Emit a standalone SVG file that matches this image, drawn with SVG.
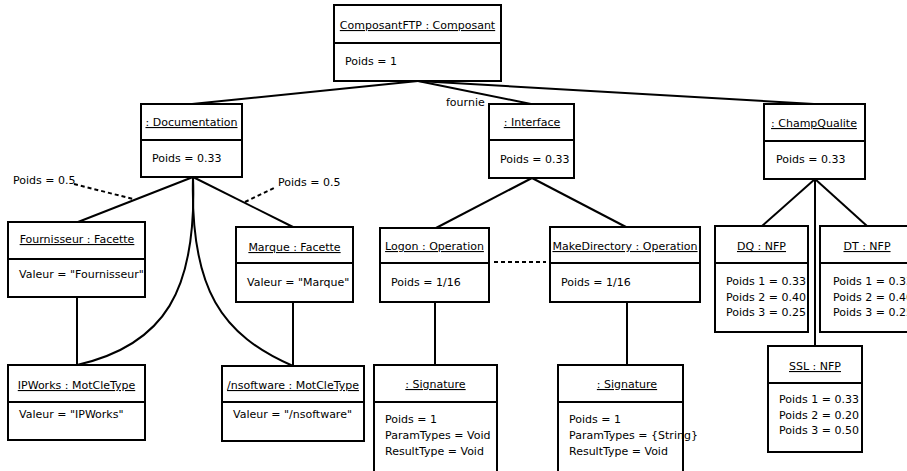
<svg xmlns="http://www.w3.org/2000/svg" width="907" height="471" viewBox="0 0 907 471">
<style>
text{font-family:"DejaVu Sans","Liberation Sans",sans-serif;font-size:11px;fill:#000}
.t{text-anchor:middle;text-decoration:underline}
.b{fill:#fff;stroke:#000;stroke-width:2}
.d{stroke:#000;stroke-width:2}
.c{fill:none;stroke:#000;stroke-width:2}
.dash{fill:none;stroke:#000;stroke-width:2;stroke-dasharray:4 3}
</style>
<rect width="907" height="471" fill="#fff"/>
<g id="connectors">
<line class="c" x1="418" y1="81" x2="192" y2="104"/>
<line class="c" x1="418" y1="81" x2="531" y2="104"/>
<line class="c" x1="418" y1="81" x2="814" y2="104"/>
<line class="c" x1="193" y1="177" x2="78" y2="222"/>
<line class="c" x1="193" y1="177" x2="293" y2="227"/>
<path class="c" d="M193,177 C197,290 165,345 77,365"/>
<path class="c" d="M193,177 C190,290 222,335 293,366"/>
<line class="c" x1="77" y1="297" x2="77" y2="365"/>
<line class="c" x1="293" y1="302" x2="293" y2="366"/>
<line class="c" x1="532" y1="178" x2="436" y2="228"/>
<line class="c" x1="532" y1="178" x2="626" y2="227"/>
<line class="c" x1="435" y1="302" x2="435" y2="365"/>
<line class="c" x1="627" y1="302" x2="627" y2="365"/>
<line class="c" x1="815" y1="179" x2="762" y2="226"/>
<line class="c" x1="815" y1="179" x2="867" y2="226"/>
<line class="c" x1="815" y1="179" x2="815" y2="346"/>
<line class="dash" x1="74" y1="184" x2="133" y2="199"/>
<line class="dash" x1="245" y1="202" x2="276" y2="187"/>
<line class="dash" x1="494" y1="262" x2="546" y2="262"/>
<text x="446" y="106">fournie</text>
<text x="13" y="184">Poids = 0.5</text>
<text x="278" y="186">Poids = 0.5</text>
</g>
<g id="composant">
<rect class="b" x="334" y="5" width="167" height="76"/>
<line class="d" x1="334" y1="43" x2="501" y2="43"/>
<text class="t" x="417.5" y="29">ComposantFTP : Composant</text>
<text x="345" y="65">Poids = 1</text>
</g>
<g id="documentation">
<rect class="b" x="141" y="104" width="101" height="73"/>
<line class="d" x1="141" y1="140" x2="242" y2="140"/>
<text class="t" x="191.5" y="126">: Documentation</text>
<text x="152" y="162">Poids = 0.33</text>
</g>
<g id="interface">
<rect class="b" x="489" y="104" width="85" height="74"/>
<line class="d" x1="489" y1="140" x2="574" y2="140"/>
<text class="t" x="532" y="126">: Interface</text>
<text x="500" y="163">Poids = 0.33</text>
</g>
<g id="champqualite">
<rect class="b" x="764" y="104" width="101" height="75"/>
<line class="d" x1="764" y1="141" x2="865" y2="141"/>
<text class="t" x="814" y="127">: ChampQualite</text>
<text x="776" y="163">Poids = 0.33</text>
</g>
<g id="fournisseur">
<rect class="b" x="8" y="222" width="137" height="75"/>
<line class="d" x1="8" y1="259" x2="145" y2="259"/>
<text class="t" x="77" y="243">Fournisseur : Facette</text>
<text x="19" y="278">Valeur = "Fournisseur"</text>
</g>
<g id="marque">
<rect class="b" x="236" y="227" width="117" height="75"/>
<line class="d" x1="236" y1="263" x2="353" y2="263"/>
<text class="t" x="294.5" y="251">Marque : Facette</text>
<text x="247" y="286">Valeur = "Marque"</text>
</g>
<g id="logon">
<rect class="b" x="380" y="228" width="109" height="74"/>
<line class="d" x1="380" y1="263" x2="489" y2="263"/>
<text class="t" x="434.5" y="250">Logon : Operation</text>
<text x="391" y="286">Poids = 1/16</text>
</g>
<g id="makedirectory">
<rect class="b" x="550" y="227" width="150" height="75"/>
<line class="d" x1="550" y1="263" x2="700" y2="263"/>
<text class="t" x="625" y="250">MakeDirectory : Operation</text>
<text x="561" y="286">Poids = 1/16</text>
</g>
<g id="dq">
<rect class="b" x="715" y="226" width="93" height="106"/>
<line class="d" x1="715" y1="263" x2="808" y2="263"/>
<text class="t" x="761.5" y="250">DQ : NFP</text>
<text x="726" y="285">Poids 1 = 0.33</text>
<text x="726" y="300.5">Poids 2 = 0.40</text>
<text x="726" y="316">Poids 3 = 0.25</text>
</g>
<g id="dt">
<rect class="b" x="820" y="226" width="94" height="106"/>
<line class="d" x1="820" y1="263" x2="914" y2="263"/>
<text class="t" x="867" y="250">DT : NFP</text>
<text x="833" y="285">Poids 1 = 0.33</text>
<text x="833" y="300.5">Poids 2 = 0.40</text>
<text x="833" y="316">Poids 3 = 0.25</text>
</g>
<g id="ssl">
<rect class="b" x="768" y="346" width="94" height="106"/>
<line class="d" x1="768" y1="383" x2="862" y2="383"/>
<text class="t" x="815" y="370">SSL : NFP</text>
<text x="779" y="403">Poids 1 = 0.33</text>
<text x="779" y="418.5">Poids 2 = 0.20</text>
<text x="779" y="434">Poids 3 = 0.50</text>
</g>
<g id="ipworks">
<rect class="b" x="8" y="365" width="137" height="75"/>
<line class="d" x1="8" y1="402" x2="145" y2="402"/>
<text class="t" x="76.5" y="389">IPWorks : MotCleType</text>
<text x="19" y="418">Valeur = "IPWorks"</text>
</g>
<g id="nsoftware">
<rect class="b" x="222" y="366" width="142" height="75"/>
<line class="d" x1="222" y1="402" x2="364" y2="402"/>
<text class="t" x="293" y="389">/nsoftware : MotCleType</text>
<text x="233" y="418">Valeur = "/nsoftware"</text>
</g>
<g id="signature1">
<rect class="b" x="374" y="365" width="123" height="115"/>
<line class="d" x1="374" y1="402" x2="497" y2="402"/>
<text class="t" x="435.5" y="388">: Signature</text>
<text x="385" y="423">Poids = 1</text>
<text x="385" y="439">ParamTypes = Void</text>
<text x="385" y="455">ResultType = Void</text>
</g>
<g id="signature2">
<rect class="b" x="558" y="365" width="125" height="115"/>
<line class="d" x1="558" y1="402" x2="683" y2="402"/>
<text class="t" x="627" y="388">: Signature</text>
<text x="569" y="423">Poids = 1</text>
<text x="569" y="439">ParamTypes = {String}</text>
<text x="569" y="455">ResultType = Void</text>
</g>
</svg>
